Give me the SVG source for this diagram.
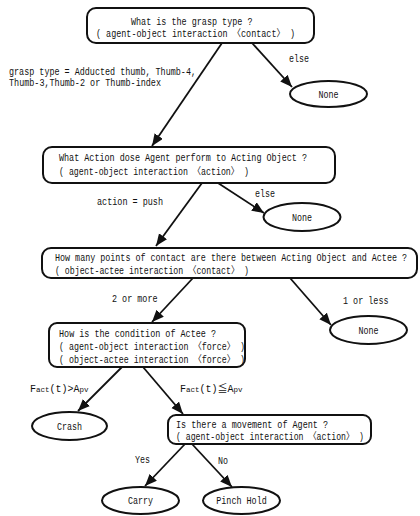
<svg xmlns="http://www.w3.org/2000/svg" width="420" height="516" viewBox="0 0 420 516">
  <style>
    .box { fill: #fff; stroke: #111; stroke-width: 2; }
    .leaf { fill: #fff; stroke: #111; stroke-width: 2; }
    .edge { fill: none; stroke: #111; stroke-width: 1.8; marker-end: url(#arrow); }
    text { font-family: "Liberation Mono", "Noto Sans CJK JP", monospace; font-size: 10px; fill: #111; }
    .mid { text-anchor: middle; }
    .sub { font-size: 7.5px; }
  </style>
  <defs>
    <marker id="arrow" markerUnits="userSpaceOnUse" markerWidth="13" markerHeight="11" refX="12" refY="5" orient="auto">
      <path d="M0,0 L12,5 L0,10 Z" fill="#111"/>
    </marker>
  </defs>

  <rect width="420" height="516" fill="#fff"/>

  <!-- connectors -->
  <g id="connectors">
    <line class="edge" x1="222" y1="43" x2="152" y2="146"/>
    <line class="edge" x1="252" y1="43" x2="292" y2="87"/>
    <line class="edge" x1="202" y1="183" x2="156" y2="246"/>
    <line class="edge" x1="218" y1="183" x2="264" y2="213"/>
    <line class="edge" x1="193" y1="278" x2="152" y2="322"/>
    <line class="edge" x1="290" y1="278" x2="331" y2="325"/>
    <line class="edge" x1="122" y1="367" x2="78" y2="411"/>
    <line class="edge" x1="143" y1="367" x2="183" y2="414"/>
    <line class="edge" x1="185" y1="444" x2="145" y2="486"/>
    <line class="edge" x1="192" y1="444" x2="232" y2="487"/>
  </g>

  <!-- edge labels -->
  <g id="edge-labels">
    <text x="9" y="74.5" textLength="187" lengthAdjust="spacingAndGlyphs">grasp type = Adducted thumb, Thumb-4,</text>
    <text x="9" y="86" textLength="152" lengthAdjust="spacingAndGlyphs">Thumb-3,Thumb-2 or Thumb-index</text>
    <text x="289" y="61.5" textLength="20" lengthAdjust="spacingAndGlyphs">else</text>
    <text x="97" y="204.5" textLength="66" lengthAdjust="spacingAndGlyphs">action = push</text>
    <text x="255" y="196.5" textLength="20" lengthAdjust="spacingAndGlyphs">else</text>
    <text x="112" y="301.5" textLength="45.5" lengthAdjust="spacingAndGlyphs">2 or more</text>
    <text x="343" y="303.5" textLength="45.5" lengthAdjust="spacingAndGlyphs">1 or less</text>
    <text x="30" y="391.5">F<tspan class="sub">act</tspan>(t)&gt;A<tspan class="sub">pv</tspan></text>
    <text x="180" y="391.5">F<tspan class="sub">act</tspan>(t)≦A<tspan class="sub">pv</tspan></text>
    <text x="135" y="462.5" textLength="15" lengthAdjust="spacingAndGlyphs">Yes</text>
    <text x="218" y="463.5" textLength="10" lengthAdjust="spacingAndGlyphs">No</text>
  </g>

  <!-- question nodes -->
  <g id="q-grasp">
    <rect class="box" x="87" y="8" width="227" height="35" rx="9"/>
    <text x="131" y="24.5" textLength="121.5" lengthAdjust="spacingAndGlyphs">What is the grasp type ?</text>
    <text x="96" y="37" textLength="199" lengthAdjust="spacingAndGlyphs">( agent-object interaction 〈contact〉 )</text>
  </g>

  <g id="q-action">
    <rect class="box" x="43" y="147" width="292" height="36" rx="9"/>
    <text x="59" y="160.5" textLength="248" lengthAdjust="spacingAndGlyphs">What Action dose Agent perform to Acting Object ?</text>
    <text x="59" y="175" textLength="190" lengthAdjust="spacingAndGlyphs">( agent-object interaction 〈action〉 )</text>
  </g>

  <g id="q-contact">
    <rect class="box" x="42" y="248" width="375" height="30" rx="9"/>
    <text x="55" y="261" textLength="352" lengthAdjust="spacingAndGlyphs">How many points of contact are there between Acting Object and Actee ?</text>
    <text x="55" y="273.5" textLength="194" lengthAdjust="spacingAndGlyphs">( object-actee interaction 〈contact〉 )</text>
  </g>

  <g id="q-condition">
    <rect class="box" x="49" y="323" width="196" height="44" rx="8"/>
    <text x="59" y="337" textLength="157" lengthAdjust="spacingAndGlyphs">How is the condition of Actee ?</text>
    <text x="59" y="350" textLength="186" lengthAdjust="spacingAndGlyphs">( agent-object interaction 〈force〉 )</text>
    <text x="59" y="362.5" textLength="186" lengthAdjust="spacingAndGlyphs">( object-actee interaction 〈force〉 )</text>
  </g>

  <g id="q-movement">
    <rect class="box" x="168" y="415" width="203" height="29" rx="8"/>
    <text x="176" y="427.5" textLength="152" lengthAdjust="spacingAndGlyphs">Is there a movement of Agent ?</text>
    <text x="176" y="440" textLength="188" lengthAdjust="spacingAndGlyphs">( agent-object interaction 〈action〉 )</text>
  </g>

  <!-- outcome nodes -->
  <g id="none-1">
    <ellipse class="leaf" cx="328.5" cy="94" rx="38.5" ry="13"/>
    <text class="mid" x="328.5" y="97.5" textLength="20" lengthAdjust="spacingAndGlyphs">None</text>
  </g>
  <g id="none-2">
    <ellipse class="leaf" cx="302" cy="217" rx="38.5" ry="14"/>
    <text class="mid" x="302" y="221" textLength="20" lengthAdjust="spacingAndGlyphs">None</text>
  </g>
  <g id="none-3">
    <ellipse class="leaf" cx="368.5" cy="330" rx="38.5" ry="14"/>
    <text class="mid" x="368.5" y="333.5" textLength="20" lengthAdjust="spacingAndGlyphs">None</text>
  </g>
  <g id="crash">
    <ellipse class="leaf" cx="69.5" cy="426" rx="37.5" ry="14"/>
    <text class="mid" x="69.5" y="429.5" textLength="25" lengthAdjust="spacingAndGlyphs">Crash</text>
  </g>
  <g id="carry">
    <ellipse class="leaf" cx="140.5" cy="500.5" rx="38.5" ry="13.5"/>
    <text class="mid" x="140.5" y="504" textLength="25" lengthAdjust="spacingAndGlyphs">Carry</text>
  </g>
  <g id="pinch-hold">
    <ellipse class="leaf" cx="241.5" cy="500.5" rx="38.5" ry="13.5"/>
    <text class="mid" x="241.5" y="504" textLength="50.5" lengthAdjust="spacingAndGlyphs">Pinch Hold</text>
  </g>
</svg>
